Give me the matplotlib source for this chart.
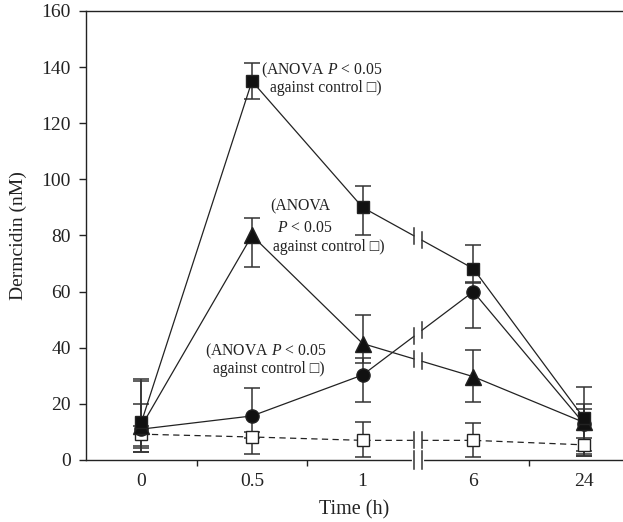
import numpy as np
import matplotlib.pyplot as plt

plt.rcParams['font.family'] = ['Liberation Serif', 'DejaVu Serif']
plt.rcParams['mathtext.fontset'] = 'custom'
plt.rcParams['mathtext.rm'] = 'Liberation Serif'
plt.rcParams['mathtext.it'] = 'Liberation Serif:italic'

time_labels = ['0', '0.5', '1', '6', '24']

# filled square
sq_mean = [13.4, 135.0, 90.0, 68.2, 14.9]
sq_low = [5.1, 128.8, 80.0, 63.0, 3.3]
sq_high = [28.8, 141.6, 97.8, 76.7, 25.9]

# filled triangle
tri_mean = [12.0, 80.0, 41.5, 29.7, 13.4]
tri_low = [4.3, 68.6, 34.5, 20.8, 2.2]
tri_high = [28.3, 86.4, 51.6, 39.2, 20.0]

# filled circle
cir_mean = [11.0, 15.7, 30.3, 60.0, 13.0]
cir_low = [2.8, 8.0, 20.8, 46.9, 1.3]
cir_high = [20.0, 25.8, 36.2, 63.5, 18.0]

# open square (control)
ctl_mean = [9.2, 8.2, 7.0, 7.0, 5.4]
ctl_low = [2.8, 2.2, 1.1, 1.0, 1.3]
ctl_high = [12.0, 10.0, 13.4, 13.2, 8.0]

x = np.arange(len(time_labels), dtype=float)
BRK = 2.5
GAP = 0.036
BH = 2.9

fig = plt.figure(figsize=(6.23, 5.22), dpi=100)
ax = fig.add_axes([86 / 623, 62 / 522, 537 / 623, 449 / 522])


def draw_series(mean, low, high, marker, face, ls, ms):
    mean = np.array(mean, dtype=float)
    yerr = [mean - np.array(low), np.array(high) - mean]
    ax.errorbar(x, mean, yerr=yerr, fmt='none', ecolor='#333333',
                elinewidth=1.1, capsize=6, capthick=1.1, zorder=2)
    yb = np.interp([BRK - GAP, BRK + GAP], x, mean)
    left_x = np.append(x[:3], BRK - GAP)
    left_y = np.append(mean[:3], yb[0])
    right_x = np.insert(x[3:], 0, BRK + GAP)
    right_y = np.insert(mean[3:], 0, yb[1])
    dash = (0, (5, 3.5)) if ls == '--' else '-'
    ax.plot(left_x, left_y, color='#222222', lw=0.9, ls=dash, zorder=3)
    ax.plot(right_x, right_y, color='#222222', lw=0.9, ls=dash, zorder=3)
    for bx, by in zip([BRK - GAP, BRK + GAP], yb):
        ax.plot([bx, bx], [by - BH, by + BH], color='#333333', lw=1.1, zorder=3)
    ax.plot(x, mean, ls='none', marker=marker, ms=ms, mfc=face,
            mec='#222222', mew=1.0, zorder=4)


draw_series(ctl_mean, ctl_low, ctl_high, 's', 'white', '--', 9)
draw_series(cir_mean, cir_low, cir_high, 'o', '#111111', '-', 9.5)
draw_series(tri_mean, tri_low, tri_high, '^', '#111111', '-', 11)
draw_series(sq_mean, sq_low, sq_high, 's', '#111111', '-', 9)

ax.set_xlim(-0.5, 4.353)
ax.set_ylim(0, 160)
ax.spines['right'].set_visible(False)
for s in ['left', 'bottom', 'top']:
    ax.spines[s].set_linewidth(1.0)
    ax.spines[s].set_color('#222222')

ax.set_xticks(x)
ax.set_xticklabels(time_labels)
ax.set_xticks([0.5, 1.5, 3.5], minor=True)
ax.tick_params(axis='x', which='major', length=0, pad=9, labelsize=14, colors='#222222')
ax.tick_params(axis='x', which='minor', length=4, width=1.0, direction='out', color='#222222')
ax.set_yticks(np.arange(0, 161, 20))
ax.tick_params(axis='y', length=5, width=1.0, pad=6, labelsize=14, colors='#222222')

# break on the x axis
ax.plot([BRK - GAP, BRK + GAP], [0, 0], color='white', lw=3, zorder=5, clip_on=False)
for bx in [BRK - GAP, BRK + GAP]:
    ax.plot([bx, bx], [-3.2, 3.2], color='#333333', lw=1.1, zorder=6, clip_on=False)

ax.set_xlabel('Time (h)', fontsize=14.5, color='#222222', labelpad=8)
ax.set_ylabel('Dermcidin (nM)', fontsize=14, color='#222222', labelpad=10)

tk = dict(fontsize=11.3, color='#222222', ha='center', va='center')
ax.text(1.633, 138.7, '(ANOVA $P$ < 0.05', **tk)
ax.text(1.665, 132.4, 'against control \u25a1)', **tk)
ax.text(1.434, 90.3, '(ANOVA', **tk)
ax.text(1.475, 82.6, '$P$ < 0.05', **tk)
ax.text(1.697, 75.9, 'against control \u25a1)', **tk)
ax.text(1.122, 38.6, '(ANOVA $P$ < 0.05', **tk)
ax.text(1.15, 32.4, 'against control \u25a1)', **tk)

fig.savefig('out.png', dpi=100)
